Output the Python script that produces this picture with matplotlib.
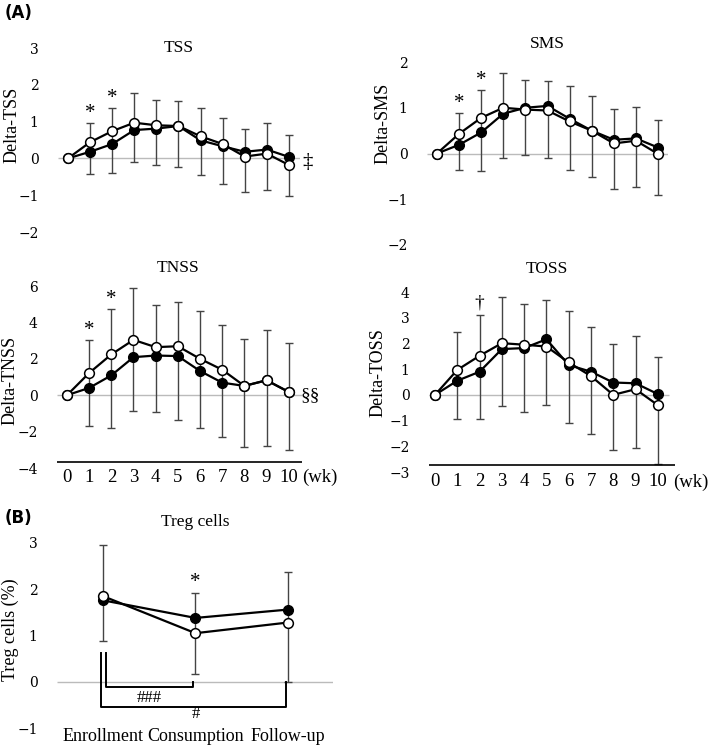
"""
Recreate the symptom-score / Treg figure (panels A and B).
"""
import numpy as np
import matplotlib
matplotlib.use("Agg")
import matplotlib.pyplot as plt

# ---- data ----
weeks = list(range(11))

tss_open = [0, 0.44, 0.74, 0.97, 0.90, 0.88, 0.60, 0.39, 0.05, 0.13, -0.18]
tss_fill = [0, 0.18, 0.39, 0.77, 0.81, 0.88, 0.49, 0.33, 0.18, 0.24, 0.04]
tss_hi = [0, 0.95, 1.37, 1.78, 1.59, 1.57, 1.36, 1.10, 0.80, 0.96, 0.64]
tss_lo = [0, -0.43, -0.40, -0.10, -0.19, -0.24, -0.45, -0.69, -0.90, -0.85, -1.03]

sms_open = [0, 0.43, 0.78, 1.00, 0.96, 0.94, 0.70, 0.50, 0.22, 0.28, -0.01]
sms_fill = [0, 0.19, 0.46, 0.87, 1.00, 1.04, 0.76, 0.50, 0.30, 0.33, 0.13]
sms_hi = [0, 0.89, 1.39, 1.76, 1.61, 1.59, 1.47, 1.26, 0.98, 1.01, 0.74]
sms_lo = [0, -0.35, -0.39, -0.09, -0.04, -0.09, -0.37, -0.52, -0.78, -0.73, -0.91]

tnss_open = [0, 1.22, 2.24, 3.04, 2.64, 2.69, 2.00, 1.40, 0.51, 0.82, 0.18]
tnss_fill = [0, 0.40, 1.09, 2.09, 2.18, 2.15, 1.33, 0.69, 0.51, 0.82, 0.18]
tnss_hi = [0, 3.04, 4.73, 5.91, 4.93, 5.11, 4.60, 3.85, 3.09, 3.60, 2.85]
tnss_lo = [0, -1.67, -1.78, -0.85, -0.91, -1.36, -1.78, -2.27, -2.82, -2.78, -3.00]

toss_open = [0, 0.97, 1.52, 2.01, 1.95, 1.88, 1.26, 0.73, 0.00, 0.22, -0.40]
toss_fill = [0, 0.55, 0.90, 1.78, 1.82, 2.16, 1.16, 0.90, 0.48, 0.45, 0.03]
toss_hi = [0, 2.45, 3.12, 3.79, 3.53, 3.69, 3.25, 2.65, 1.97, 2.27, 1.48]
toss_lo = [0, -0.94, -0.94, -0.43, -0.66, -0.39, -1.08, -1.53, -2.16, -2.05, -2.70]

treg_labels = ["Enrollment", "Consumption", "Follow-up"]
treg_open = [1.85, 1.05, 1.28]
treg_fill = [1.76, 1.38, 1.56]
treg_hi = [2.96, 1.91, 2.37]
treg_lo = [0.89, 0.16, 0.00]

SERIF = "Liberation Serif"
TICKF = "DejaVu Serif"
W, H = 709, 746


def px_axes(fig, x0, y0, x1, y1):
    """Axes from pixel box (top-left origin)."""
    return fig.add_axes([x0 / W, 1 - y1 / H, (x1 - x0) / W, (y1 - y0) / H])


def draw_series(ax, x, o, f, hi, lo):
    x = np.asarray(x); o = np.asarray(o); hi = np.asarray(hi); lo = np.asarray(lo)
    m = hi != lo
    ax.errorbar(x[m], o[m], yerr=[o[m] - lo[m], hi[m] - o[m]], fmt="none",
                ecolor="#444444", elinewidth=1.0, capsize=3, capthick=1.0, zorder=2)
    ax.plot(x, f, "-o", color="black", lw=1.6, ms=7, mfc="black", mec="black", zorder=3)
    ax.plot(x, o, "-o", color="black", lw=1.6, ms=7, mfc="white", mec="black", mew=1.1, zorder=4)


def style(ax, yticks, zx=None):
    for s in ax.spines.values():
        s.set_visible(False)
    ax.set_yticks(yticks)
    ax.set_yticklabels([f"{t:g}".replace("-", "\u2212") for t in yticks], family=TICKF, fontsize=10)
    ax.tick_params(axis="y", length=0, pad=14)
    ax.set_xticks([])
    if zx is None:
        zx = ax.get_xlim()
    ax.hlines(0, zx[0], zx[1], color="#bbbbbb", lw=1.0, zorder=1)


def ylab(fig, x, y, s):
    fig.text(x / W, 1 - y / H, s, rotation=90, ha="center", va="center",
             family=SERIF, fontsize=13)


def star(ax, x, y, sym, off=1, size=13):
    ax.annotate(sym, (x, y), xytext=(0, off), textcoords="offset points",
                ha="center", va="bottom", fontsize=size, family=SERIF)


def week_axis(ax, yline, xwk, ywk):
    ax.axhline(yline, color="black", lw=1.2)
    ax.set_xticks(weeks)
    ax.set_xticklabels([str(w) for w in weeks], family=SERIF, fontsize=13.5)
    ax.tick_params(axis="x", length=0, pad=1)
    ax.text(xwk, ywk, "(wk)", ha="left", va="top", family=SERIF, fontsize=13.5)


fig = plt.figure(figsize=(W / 100, H / 100), dpi=100)

# ---- TSS ----
ax = px_axes(fig, 58, 48, 300, 232)
ax.set_xlim(-0.45, 10.5); ax.set_ylim(-2, 3)
style(ax, [3, 2, 1, 0, -1, -2])
draw_series(ax, weeks, tss_open, tss_fill, tss_hi, tss_lo)
ax.text(5, 3, "TSS", ha="center", va="center", family=SERIF, fontsize=12.5)
ylab(fig, 12, 125, "Delta-TSS")
for i in (1, 2):
    star(ax, weeks[i], tss_hi[i], "*", off=0, size=15)
ax.text(10.86, -0.12, "\u2021", ha="center", va="center", family=SERIF, fontsize=15)

# ---- SMS ----
ax = px_axes(fig, 427, 62, 668, 245)
ax.set_xlim(-0.45, 10.45); ax.set_ylim(-2, 2)
style(ax, [2, 1, 0, -1, -2])
draw_series(ax, weeks, sms_open, sms_fill, sms_hi, sms_lo)
ax.text(5, 2.4, "SMS", ha="center", va="center", family=SERIF, fontsize=12.5)
ylab(fig, 383, 123, "Delta-SMS")
for i in (1, 2):
    star(ax, weeks[i], sms_hi[i], "*", off=0, size=15)

# ---- TNSS ----
ax = px_axes(fig, 57, 286, 302, 468)
ax.set_xlim(-0.45, 10.6); ax.set_ylim(-4, 6)
style(ax, [6, 4, 2, 0, -2, -4])
draw_series(ax, weeks, tnss_open, tnss_fill, tnss_hi, tnss_lo)
week_axis(ax, -3.67, 10.62, -4.05)
ax.text(5, 7.0, "TNSS", ha="center", va="center", family=SERIF, fontsize=12.5)
ylab(fig, 10, 380, "Delta-TNSS")
for i in (1, 2):
    star(ax, weeks[i], tnss_hi[i], "*", off=0, size=15)
ax.text(10.95, -0.05, "\u00a7\u00a7", ha="center", va="center", family=SERIF, fontsize=14)

# ---- TOSS ----
ax = px_axes(fig, 429, 292, 675, 472)
ax.set_xlim(-0.27, 10.77); ax.set_ylim(-3, 4)
style(ax, [4, 3, 2, 1, 0, -1, -2, -3], zx=(-0.27, 10.5))
draw_series(ax, weeks, toss_open, toss_fill, toss_hi, toss_lo)
week_axis(ax, -2.72, 10.68, -3.05)
ax.text(5, 4.9, "TOSS", ha="center", va="center", family=SERIF, fontsize=12.5)
ylab(fig, 378, 373, "Delta-TOSS")
star(ax, weeks[2], toss_hi[2], "\u2020", off=2, size=14)

# ---- Treg ----
xs = np.arange(len(treg_labels))
ax = px_axes(fig, 57, 543, 333, 728)
ax.set_xlim(-0.5, 2.49); ax.set_ylim(-1, 3)
style(ax, [3, 2, 1, 0, -1])
draw_series(ax, xs, treg_open, treg_fill, treg_hi, treg_lo)
ax.set_xticks(xs)
ax.set_xticklabels(treg_labels, family=SERIF, fontsize=13)
ax.tick_params(axis="x", length=0, pad=0)
ax.text(1, 3.46, "Treg cells", ha="center", va="center", family=SERIF, fontsize=12.5)
ylab(fig, 10, 630, "Treg cells (%)")
star(ax, xs[1], treg_hi[1], "*", off=1, size=15)
# brackets
ax.plot([0.03, 0.03, 0.97, 0.97], [0.63, -0.11, -0.11, 0.0], color="black", lw=1.4)
ax.plot([-0.02, -0.02, 1.98, 1.98], [0.63, -0.54, -0.54, 0.0], color="black", lw=1.4)
ax.text(0.5, -0.36, "###", ha="center", va="center", family=SERIF, fontsize=12)
ax.text(1.0, -0.7, "#", ha="center", va="center", family=SERIF, fontsize=12)

fig.text(5 / W, 1 - 13 / H, "(A)", fontweight="bold", fontsize=12, va="center", ha="left")
fig.text(5 / W, 1 - 518 / H, "(B)", fontweight="bold", fontsize=12, va="center", ha="left")

plt.savefig("out.png", dpi=100)
plt.close()
